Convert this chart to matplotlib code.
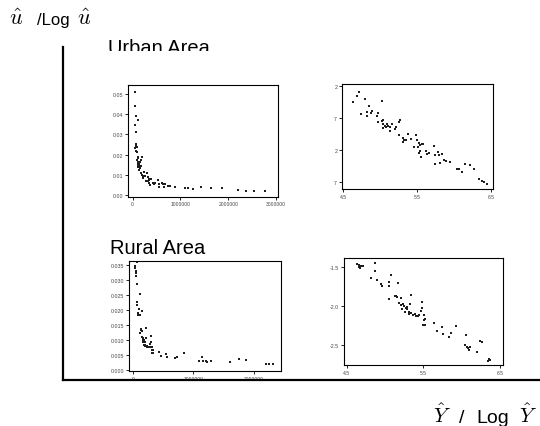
import numpy as np
import matplotlib; matplotlib.use("Agg")
import matplotlib.pyplot as plt
from matplotlib.lines import Line2D
from matplotlib.patches import Rectangle
from matplotlib.ticker import FormatStrFormatter

plt.rcParams["font.family"] = ["Liberation Sans", "DejaVu Sans"]
plt.rcParams["mathtext.fontset"] = "cm"

# urban area: log10(Y hat) and log10(u hat)
urban_logY = [4.721, 4.685, 4.640, 4.793, 5.023, 4.856, 4.739, 4.820, 4.829, 4.874,
              4.887, 4.968, 4.964, 4.973, 5.023, 5.045, 5.045, 5.068, 5.090, 5.113,
              5.135, 5.158, 5.045, 5.081, 5.135, 5.216, 5.207, 5.261, 5.270, 5.252,
              5.306, 5.315, 5.324, 5.347, 5.383, 5.414, 5.486, 5.495, 5.532, 5.541,
              5.563, 5.586, 5.459, 5.514, 5.541, 5.523, 5.550, 5.622, 5.640, 5.667,
              5.730, 5.743, 5.784, 5.802, 5.833, 5.811, 5.743, 5.865, 5.892, 5.946,
              6.036, 6.063, 6.104, 6.153, 6.216, 6.270, 6.342, 6.374, 6.405, 6.441]
urban_logu = [-1.293, -1.355, -1.458, -1.406, -1.432, -1.509, -1.638, -1.612, -1.664, -1.628,
              -1.597, -1.623, -1.674, -1.767, -1.741, -1.731, -1.793, -1.819, -1.793, -1.819,
              -1.844, -1.793, -1.855, -1.844, -1.906, -1.844, -1.870, -1.767, -1.731, -1.958,
              -2.009, -2.076, -2.040, -2.040, -1.947, -2.025, -1.973, -2.051, -2.092, -2.128,
              -2.102, -2.102, -2.154, -2.154, -2.215, -2.246, -2.308, -2.215, -2.257, -2.246,
              -2.143, -2.282, -2.231, -2.282, -2.267, -2.401, -2.422, -2.349, -2.370, -2.386,
              -2.489, -2.489, -2.540, -2.422, -2.437, -2.494, -2.643, -2.685, -2.695, -2.731]

# rural area
rural_logY = [4.635, 4.657, 4.665, 4.678, 4.691, 4.717, 4.874, 4.874, 4.822, 4.891,
              4.952, 4.961, 5.048, 5.057, 5.083, 5.170, 5.057, 5.126, 5.148, 5.157,
              5.204, 5.343, 5.187, 5.213, 5.230, 5.248, 5.222, 5.274, 5.287, 5.291,
              5.330, 5.309, 5.265, 5.317, 5.343, 5.361, 5.387, 5.404, 5.430, 5.448,
              5.465, 5.483, 5.483, 5.509, 5.504, 5.526, 5.496, 5.517, 5.635, 5.674,
              5.743, 5.752, 5.839, 5.861, 5.930, 6.057, 6.039, 6.065, 6.083, 6.091,
              6.113, 6.204, 6.243, 6.270, 6.352, 6.365, 6.343]
rural_logu = [-1.461, -1.470, -1.491, -1.504, -1.483, -1.483, -1.444, -1.543, -1.642, -1.667,
              -1.719, -1.736, -1.693, -1.736, -1.599, -1.706, -1.903, -1.869, -1.869, -1.878,
              -1.891, -1.856, -1.964, -1.985, -1.976, -1.994, -2.036, -2.019, -2.006, -2.036,
              -1.976, -2.071, -2.071, -2.105, -2.092, -2.114, -2.097, -2.122, -2.122, -2.114,
              -2.062, -2.028, -1.951, -2.114, -2.178, -2.165, -2.242, -2.242, -2.221, -2.320,
              -2.268, -2.358, -2.393, -2.350, -2.255, -2.371, -2.500, -2.521, -2.534, -2.564,
              -2.521, -2.586, -2.448, -2.457, -2.680, -2.697, -2.706]

urban_lin_xticks = [0, 1000000, 2000000, 3000000]
urban_lin_yticks = [0.00, 0.01, 0.02, 0.03, 0.04, 0.05]
urban_log_yticks = [-1.2, -1.7, -2.2, -2.7]
urban_log_ylabels = ["2", "7", "2", "7"]
rural_lin_xticks = [0, 1000000, 2000000]
rural_lin_yticks = [0.000, 0.005, 0.010, 0.015, 0.020, 0.025, 0.030, 0.035]
log_xticks = [4.5, 5.5, 6.5]
rural_log_yticks = [-1.5, -2.0, -2.5]

W, H = 540, 427
fig = plt.figure(figsize=(W / 100, H / 100), dpi=100)

def px_axes(x0, y0, x1, y1):
    return fig.add_axes([x0 / W, 1 - y1 / H, (x1 - x0) / W, (y1 - y0) / H])

def style(ax):
    for s in ax.spines.values(): s.set_linewidth(0.8); s.set_color("black")
    ax.tick_params(direction="out", length=2, width=0.6, labelsize=3.8,
                   labelcolor="#444444", pad=1.5)
    ax.tick_params(axis="x", labelsize=3.6)

def dots(ax, x, y):
    ax.scatter(x, y, s=4.5, marker="s", c="#1e1e1e", linewidths=0)

uY, uu = np.power(10.0, urban_logY), np.power(10.0, urban_logu)
rY, ru = np.power(10.0, rural_logY), np.power(10.0, rural_logu)

ax1 = px_axes(128, 86, 278, 197.5)
dots(ax1, uY, uu); style(ax1)
ax1.set_xlim(-98000, 3040000); ax1.set_ylim(-0.0008, 0.0545)
ax1.set_xticks(urban_lin_xticks); ax1.set_yticks(urban_lin_yticks)
ax1.xaxis.set_major_formatter(FormatStrFormatter("%d"))
ax1.yaxis.set_major_formatter(FormatStrFormatter("%.2f"))

ax2 = px_axes(342, 85, 493, 190)
dots(ax2, urban_logY, urban_logu); style(ax2)
ax2.set_xlim(4.486, 6.527); ax2.set_ylim(-2.804, -1.174)
ax2.set_xticks(log_xticks); ax2.set_yticks(urban_log_yticks)
ax2.set_yticklabels(urban_log_ylabels)

ax3 = px_axes(129, 262, 281, 372)
dots(ax3, rY, ru); style(ax3)
ax3.set_xlim(-61000, 2445000); ax3.set_ylim(-0.0003, 0.0363)
ax3.set_xticks(rural_lin_xticks); ax3.set_yticks(rural_lin_yticks)
ax3.xaxis.set_major_formatter(FormatStrFormatter("%d"))
ax3.yaxis.set_major_formatter(FormatStrFormatter("%.3f"))

ax4 = px_axes(344, 259, 503, 366)
dots(ax4, rural_logY, rural_logu); style(ax4)
ax4.set_xlim(4.465, 6.538); ax4.set_ylim(-2.756, -1.380)
ax4.set_xticks(log_xticks); ax4.set_yticks(rural_log_yticks)
ax4.yaxis.set_major_formatter(FormatStrFormatter("%.1f"))

# big L-shaped frame
fig.add_artist(Line2D([63 / W, 63 / W], [1 - 48 / H, 1 - 381 / H], color="black",
                      lw=1.6, transform=fig.transFigure, zorder=5))
fig.add_artist(Line2D([62.5 / W, 1.0], [1 - 381 / H, 1 - 381 / H], color="black",
                      lw=1.6, transform=fig.transFigure, zorder=5))

# axis names, pieced together so the hats can be larger than the words
fig.text(9 / W, 1 - 25 / H, r"$\hat{u}$", fontsize=16, va="baseline")
fig.text(37 / W, 1 - 25 / H, "/Log", fontsize=12, va="baseline")
fig.text(77 / W, 1 - 25 / H, r"$\hat{u}$", fontsize=16, va="baseline")
fig.text(433 / W, 1 - 423 / H, r"$\hat{Y}$", fontsize=15, va="baseline")
fig.text(459 / W, 1 - 423 / H, "/", fontsize=14, va="baseline")
fig.text(476 / W, 1 - 423 / H, "Log", fontsize=14, va="baseline")
fig.text(519 / W, 1 - 423 / H, r"$\hat{Y}$", fontsize=15, va="baseline")

fig.text(108 / W, 1 - 54 / H, "Urban Area", fontsize=14.5, va="baseline", zorder=1)
# the panel image covers the bottom of the urban title
fig.add_artist(Rectangle((100 / W, 1 - 80 / H), 140 / W, 28 / H, facecolor="white",
                         edgecolor="none", transform=fig.transFigure, zorder=2))
fig.text(110 / W, 1 - 254 / H, "Rural Area", fontsize=14.5, va="baseline")

fig.savefig("out.png", dpi=100)
